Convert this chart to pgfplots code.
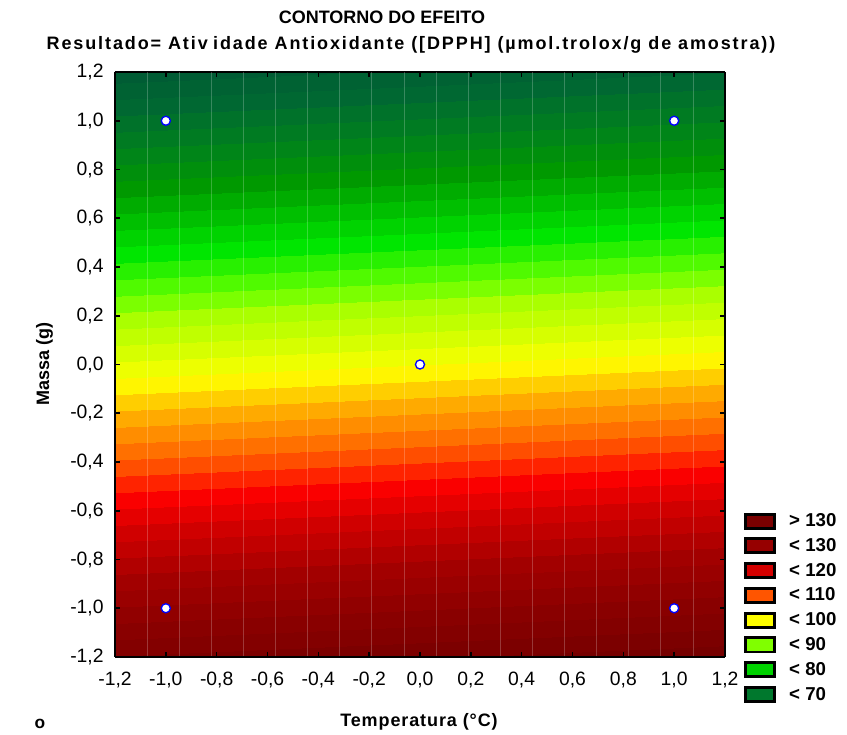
\documentclass[border=0pt]{standalone}
\usepackage{pgfplots}
\pgfplotsset{compat=1.18}
\usepackage{fontspec}
\setmainfont{Liberation Sans}

% value of the fitted effect on a 5x5 grid (x = Temperatura, y = Massa)
\pgfplotstableread{
x     y     v
-1.2  -1.2  133.2
-0.6  -1.2  134.0
0.0   -1.2  134.8
0.6   -1.2  135.6
1.2   -1.2  136.4

-1.2  -0.6  115.8
-0.6  -0.6  116.6
0.0   -0.6  117.4
0.6   -0.6  118.2
1.2   -0.6  119.0

-1.2  0.0   98.4
-0.6  0.0   99.2
0.0   0.0   100.0
0.6   0.0   100.8
1.2   0.0   101.6

-1.2  0.6   81.0
-0.6  0.6   81.8
0.0   0.6   82.6
0.6   0.6   83.4
1.2   0.6   84.2

-1.2  1.2   63.6
-0.6  1.2   64.4
0.0   1.2   65.2
0.6   1.2   66.0
1.2   1.2   66.8
}\effect

\begin{document}
\begin{tikzpicture}
\useasboundingbox (-86.25pt,-58.5pt) rectangle (549pt,492.75pt);
\begin{axis}[
    view={0}{90},
    scale only axis,
    width=457.5pt, height=438.75pt,
    xmin=-1.2, xmax=1.2, ymin=-1.2, ymax=1.2,
    xtick={-1.2,-1.0,...,1.21}, ytick={-1.2,-1.0,...,1.21},
    /pgf/number format/.cd, use comma, fixed, fixed zerofill, precision=1, assume math mode=true,
    /pgfplots/.cd,
    tick label style={font=\fontsize{14.5}{17}\selectfont},
    xticklabel style={yshift=-7.5pt},
    yticklabel style={xshift=-5pt},
    tick align=inside,
    major tick length=4pt,
    tick style={black, line width=1.2pt},
    axis line style={black, line width=1.3pt},
    axis on top,
    extra x ticks={-1.0737,-0.9474,-0.8211,-0.6947,-0.5684,-0.4421,-0.3158,-0.1895,-0.0632,0.0632,0.1895,0.3158,0.4421,0.5684,0.6947,0.8211,0.9474,1.0737},
    extra x tick labels={},
    extra x tick style={grid=major, major tick length=0pt, major grid style={white, opacity=0.22, line width=0.5pt}},
    colormap={effectsmooth}{
        rgb255(63pt)=(0,92,52);
        rgb255(67pt)=(0,104,50);
        rgb255(72pt)=(0,128,30);
        rgb255(77pt)=(0,153,0);
        rgb255(85pt)=(0,230,0);
        rgb255(90pt)=(100,255,0);
        rgb255(93pt)=(170,255,0);
        rgb255(98pt)=(225,255,0);
        rgb255(100.5pt)=(255,255,0);
        rgb255(102.5pt)=(255,215,0);
        rgb255(105pt)=(255,170,0);
        rgb255(108.5pt)=(255,120,0);
        rgb255(111.5pt)=(255,70,0);
        rgb255(114.5pt)=(255,0,0);
        rgb255(119pt)=(208,0,0);
        rgb255(125pt)=(162,0,0);
        rgb255(131pt)=(137,0,0);
        rgb255(137pt)=(118,0,0)
    },
    colormap={effect}{samples of colormap=(38 of effectsmooth)},
    colormap access=piecewise constant,
    point meta min=63, point meta max=137,
    legend style={at={(1.0246,0.2547)}, anchor=north west, draw=none, fill=none,
        font=\bfseries\fontsize{14}{16}\selectfont, row sep=3.3pt,
        /tikz/every odd column/.append style={column sep=8pt}},
    legend cell align=left,
    legend image code/.code={\draw[#1, draw=black, line width=2.2pt] (0pt,-5.3pt) rectangle (21.5pt,5.3pt);},
]
\addplot3[surf, shader=interp, mesh/rows=5, mesh/cols=5, point meta=\thisrow{v}, forget plot]
    table[x=x, y=y, z=v] {\effect};
\addplot3[only marks, mark=*, mark size=3.4pt, mark options={fill=white, draw=blue, line width=1pt}, forget plot]
    coordinates {(-1,1,150) (1,1,150) (0,0,150) (-1,-1,150) (1,-1,150)};
\addlegendimage{fill={rgb,255:red,122;green,0;blue,0}}
\addlegendentry{> 130}
\addlegendimage{fill={rgb,255:red,150;green,0;blue,0}}
\addlegendentry{< 130}
\addlegendimage{fill={rgb,255:red,212;green,0;blue,0}}
\addlegendentry{< 120}
\addlegendimage{fill={rgb,255:red,255;green,85;blue,0}}
\addlegendentry{< 110}
\addlegendimage{fill={rgb,255:red,255;green,255;blue,0}}
\addlegendentry{< 100}
\addlegendimage{fill={rgb,255:red,128;green,255;blue,0}}
\addlegendentry{< 90}
\addlegendimage{fill={rgb,255:red,0;green,210;blue,0}}
\addlegendentry{< 80}
\addlegendimage{fill={rgb,255:red,0;green,120;blue,45}}
\addlegendentry{< 70}
\end{axis}
\node[font=\bfseries\fontsize{13.5}{16}\selectfont] at (200.25pt,480pt) {CONTORNO DO EFEITO};
\node[font=\bfseries\fontsize{13.5}{16}\selectfont\addfontfeatures{LetterSpace=10.5}] at (222pt,459pt) {Resultado= Ativ\hspace{0.3em}idade Antioxidante ([DPPH] (µmol.trolox/g de amostra))};
\node[font=\bfseries\fontsize{13.5}{16}\selectfont\addfontfeatures{LetterSpace=5}] at (228pt,-48.75pt) {Temperatura (°C)};
\node[font=\bfseries\fontsize{13.5}{16}\selectfont, rotate=90] at (-52.9pt,219.75pt) {Massa (g)};
\node[font=\bfseries\fontsize{13}{16}\selectfont] at (-56.25pt,-50pt) {o};
\end{tikzpicture}
\end{document}
